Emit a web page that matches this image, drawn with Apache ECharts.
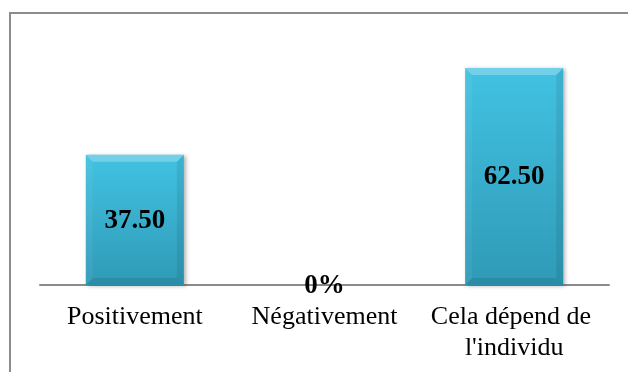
<!DOCTYPE html>
<html>
<head>
<meta charset="utf-8">
<script src="https://cdn.jsdelivr.net/npm/echarts@6/dist/echarts.min.js"></script>
<style>
  html, body { margin: 0; padding: 0; background: #ffffff; }
  #chart { width: 628px; height: 372px; }
</style>
</head>
<body>
<div id="chart"></div>
<script>
// Survey answers (percent of respondents)
const categories = ['Positivement', 'Négativement', "Cela dépend de l'individu"];
const values = [37.5, 0, 62.5];

const SERIF = '"Liberation Serif", "Times New Roman", serif';

function valueText(v) {
  return v === 0 ? '0%' : v.toFixed(2);
}

// Bevelled bar: gradient face with light top edge and darker sides/bottom
function renderBevelBar(params, api) {
  const idx = api.value(0);
  const v = api.value(1);
  const top = api.coord([idx, v]);
  const base = api.coord([idx, 0]);
  const w = api.size([1, 0])[0] * 0.517;
  const x0 = base[0] - w / 2, x1 = base[0] + w / 2;
  const y0 = top[1], y1 = base[1];
  const h = y1 - y0;
  const children = [];
  if (h > 0) {
    const b = Math.min(7, h / 2, w / 2);
    children.push({
      type: 'rect',
      shape: { x: x0, y: y0, width: w, height: h },
      style: {
        fill: new echarts.graphic.LinearGradient(0, 0, 0, 1, [
          { offset: 0, color: '#42c2e2' },
          { offset: 1, color: '#2f9ab7' }
        ]),
        shadowBlur: 4,
        shadowOffsetX: 2,
        shadowOffsetY: 1,
        shadowColor: 'rgba(0,0,0,0.3)'
      }
    });
    children.push({
      type: 'polygon',
      shape: { points: [[x0, y0], [x1, y0], [x1 - b, y0 + b], [x0 + b, y0 + b]] },
      style: { fill: 'rgba(255,255,255,0.26)' }
    });
    children.push({
      type: 'polygon',
      shape: { points: [[x0, y0], [x0 + b, y0 + b], [x0 + b, y1 - b], [x0, y1]] },
      style: { fill: 'rgba(255,255,255,0.05)' }
    });
    children.push({
      type: 'polygon',
      shape: { points: [[x1, y0], [x1, y1], [x1 - b, y1 - b], [x1 - b, y0 + b]] },
      style: { fill: 'rgba(0,0,0,0.08)' }
    });
    children.push({
      type: 'polygon',
      shape: { points: [[x0, y1], [x0 + b, y1 - b], [x1 - b, y1 - b], [x1, y1]] },
      style: { fill: 'rgba(0,0,0,0.09)' }
    });
  }
  children.push({
    type: 'text',
    style: {
      text: valueText(v),
      x: base[0],
      y: (y0 + y1) / 2 + 1,
      align: 'center',
      verticalAlign: 'middle',
      fontFamily: SERIF,
      fontWeight: 'bold',
      fontSize: 27,
      fill: '#000000'
    }
  });
  return { type: 'group', children: children };
}

const chart = echarts.init(document.getElementById('chart'), null, { renderer: 'canvas' });

chart.setOption({
  animation: false,
  backgroundColor: '#ffffff',
  graphic: [{
    type: 'rect',
    silent: true,
    z: 100,
    shape: { x: 10, y: 13, width: 700, height: 500 },
    style: { fill: 'none', stroke: '#8c8c8c', lineWidth: 2 }
  }],
  grid: { left: 40, right: 19, top: 42, bottom: 87 },
  xAxis: {
    type: 'category',
    data: categories,
    axisLine: { show: true, lineStyle: { color: '#8a8a8a', width: 2 } },
    axisTick: { show: false },
    axisLabel: {
      interval: 0,
      margin: 17,
      color: '#000000',
      fontFamily: SERIF,
      fontSize: 26,
      lineHeight: 31,
      width: 185,
      overflow: 'break'
    }
  },
  yAxis: {
    type: 'value',
    min: 0,
    max: 70,
    show: false,
    splitLine: { show: false }
  },
  series: [{
    type: 'custom',
    renderItem: renderBevelBar,
    encode: { x: 0, y: 1 },
    data: values.map((v, i) => [i, v]),
    clip: false
  }]
});
</script>
</body>
</html>
